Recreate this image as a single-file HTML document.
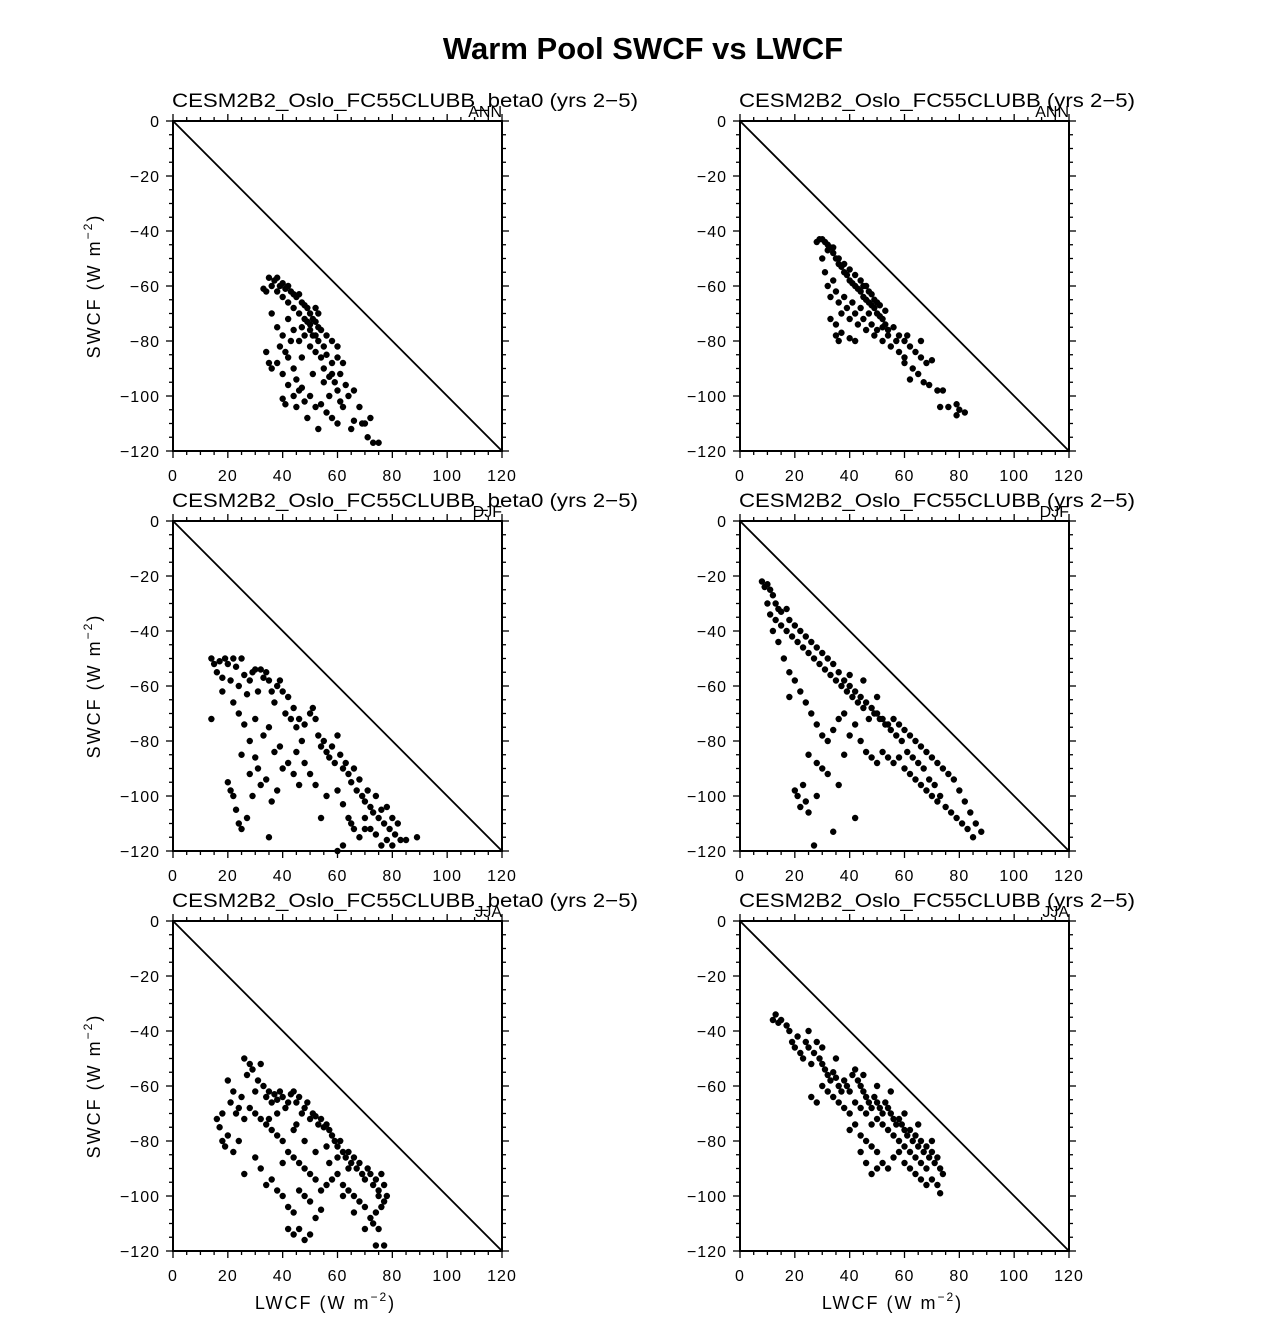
<!DOCTYPE html>
<html><head><meta charset="utf-8"><style>
body{margin:0;background:#fff}
svg text{font-family:"Liberation Sans","DejaVu Sans",sans-serif}
</style></head><body>
<svg id="fig" width="1285" height="1319" viewBox="0 0 1285 1319" xmlns="http://www.w3.org/2000/svg">
<text x="643" y="59" text-anchor="middle" font-size="31" font-weight="bold">Warm Pool SWCF vs LWCF</text>
</svg>
<script>
const xTicks=[0,20,40,60,80,100,120];
const yTicks=[0,-20,-40,-60,-80,-100,-120];
const seasons=["ANN","ANN","DJF","DJF","JJA","JJA"];
const caseLeft="CESM2B2_Oslo_FC55CLUBB_beta0 (yrs 2\u22125)";
const caseRight="CESM2B2_Oslo_FC55CLUBB (yrs 2\u22125)";
const p1=[[35,-57],[37,-58],[38,-57],[39,-60],[40,-59],[41,-61],[42,-60],[43,-62],[44,-63],[45,-64],[46,-63],[47,-66],[48,-67],[49,-68],[50,-70],[51,-72],[52,-73],[53,-75],[54,-76],[50,-74],[52,-78],[48,-72],[46,-70],[44,-68],[42,-66],[40,-64],[38,-62],[36,-60],[34,-62],[33,-61],[36,-70],[38,-75],[40,-78],[42,-72],[44,-76],[46,-80],[48,-78],[50,-82],[52,-84],[54,-86],[56,-85],[58,-88],[60,-86],[62,-88],[55,-90],[57,-93],[59,-95],[61,-92],[63,-96],[53,-80],[55,-82],[58,-80],[60,-82],[34,-84],[35,-88],[36,-90],[38,-88],[40,-92],[42,-86],[44,-90],[39,-82],[41,-84],[42,-96],[44,-100],[46,-98],[48,-102],[50,-100],[52,-104],[54,-103],[56,-106],[58,-108],[60,-110],[45,-104],[49,-108],[53,-112],[57,-100],[62,-104],[64,-100],[66,-98],[68,-104],[70,-110],[72,-108],[71,-115],[73,-117],[75,-117],[65,-112],[43,-80],[47,-86],[51,-92],[45,-94],[60,-98],[40,-101],[41,-103],[47,-97],[50,-76],[51,-78],[53,-70],[49,-73],[52,-68],[47,-75],[56,-78],[55,-95],[58,-92],[61,-102],[66,-109],[69,-110]];
const p2=[[28,-44],[29,-43],[30,-43],[31,-44],[32,-45],[33,-46],[34,-48],[35,-50],[36,-52],[37,-53],[38,-55],[39,-56],[40,-58],[41,-59],[42,-60],[43,-61],[44,-62],[45,-64],[46,-65],[47,-66],[48,-67],[49,-68],[50,-70],[51,-71],[52,-72],[53,-74],[54,-76],[44,-58],[46,-60],[48,-63],[50,-66],[42,-56],[40,-54],[38,-52],[36,-50],[34,-46],[32,-47],[30,-50],[31,-55],[32,-60],[33,-64],[34,-58],[35,-62],[36,-66],[37,-70],[38,-64],[39,-68],[40,-72],[41,-66],[42,-70],[43,-74],[44,-68],[45,-72],[46,-76],[47,-70],[48,-74],[49,-78],[50,-76],[52,-80],[54,-78],[35,-74],[35,-78],[37,-77],[40,-79],[42,-80],[36,-80],[33,-72],[56,-75],[58,-78],[60,-80],[62,-82],[64,-84],[66,-86],[68,-88],[70,-87],[58,-84],[60,-86],[63,-90],[65,-92],[67,-95],[69,-96],[72,-98],[74,-98],[73,-104],[76,-104],[79,-103],[80,-105],[82,-106],[79,-107],[55,-82],[57,-80],[61,-78],[66,-80],[62,-94],[60,-88],[47,-62],[49,-65],[51,-67],[53,-69],[45,-60],[52,-75]];
const p3=[[14,-50],[15,-52],[16,-55],[17,-51],[18,-57],[19,-50],[20,-52],[21,-58],[22,-50],[23,-53],[24,-60],[25,-50],[26,-56],[27,-63],[28,-58],[29,-55],[30,-54],[31,-62],[32,-54],[33,-57],[34,-55],[35,-58],[36,-62],[37,-66],[38,-60],[39,-58],[40,-62],[41,-70],[42,-64],[43,-72],[44,-68],[45,-75],[46,-72],[48,-74],[50,-70],[51,-68],[52,-72],[53,-78],[54,-82],[55,-80],[56,-84],[57,-86],[58,-82],[59,-88],[60,-78],[61,-85],[62,-90],[63,-88],[64,-92],[65,-95],[66,-90],[67,-98],[68,-94],[69,-100],[70,-102],[71,-98],[72,-104],[73,-106],[74,-100],[75,-108],[76,-105],[77,-110],[78,-104],[79,-112],[80,-108],[81,-114],[82,-110],[83,-116],[85,-116],[89,-115],[60,-98],[62,-103],[64,-108],[66,-112],[68,-115],[70,-112],[62,-118],[60,-120],[65,-110],[70,-108],[72,-112],[74,-114],[76,-118],[78,-116],[80,-118],[14,-72],[18,-62],[20,-95],[21,-98],[22,-100],[23,-105],[24,-110],[25,-112],[27,-108],[28,-92],[29,-100],[30,-86],[31,-90],[32,-96],[34,-94],[35,-115],[36,-102],[38,-98],[40,-90],[42,-88],[44,-92],[46,-96],[48,-88],[50,-92],[52,-96],[54,-108],[56,-100],[28,-80],[26,-74],[24,-70],[30,-72],[33,-78],[37,-84],[39,-82],[45,-84],[47,-80],[22,-66],[25,-85],[35,-75]];
const p4=[[8,-22],[9,-24],[10,-23],[11,-25],[12,-27],[13,-30],[14,-32],[15,-33],[17,-32],[18,-36],[20,-38],[22,-40],[24,-42],[26,-44],[28,-46],[30,-48],[32,-50],[34,-52],[36,-55],[38,-58],[40,-60],[42,-62],[44,-64],[46,-66],[48,-68],[50,-70],[52,-72],[54,-74],[56,-72],[58,-74],[60,-76],[62,-78],[64,-80],[66,-82],[68,-84],[70,-86],[72,-88],[74,-90],[76,-92],[78,-94],[80,-98],[82,-102],[84,-106],[86,-110],[88,-113],[85,-115],[83,-112],[81,-110],[79,-108],[77,-106],[75,-104],[73,-100],[71,-96],[69,-94],[67,-90],[65,-88],[63,-86],[61,-84],[59,-80],[57,-78],[55,-76],[53,-74],[51,-72],[49,-70],[47,-72],[45,-68],[43,-66],[41,-64],[39,-62],[37,-60],[35,-58],[33,-56],[31,-54],[29,-52],[27,-50],[25,-48],[23,-46],[21,-44],[19,-42],[17,-40],[15,-38],[13,-36],[11,-34],[10,-30],[12,-40],[14,-44],[16,-50],[18,-55],[20,-58],[22,-62],[24,-66],[26,-70],[28,-74],[30,-78],[32,-80],[34,-76],[36,-72],[38,-70],[40,-78],[42,-74],[44,-80],[46,-84],[48,-86],[50,-88],[52,-84],[54,-86],[56,-88],[58,-86],[60,-90],[62,-92],[64,-94],[66,-96],[68,-98],[70,-100],[72,-102],[20,-98],[21,-100],[22,-104],[23,-96],[24,-102],[25,-106],[27,-118],[28,-100],[30,-90],[32,-92],[34,-113],[36,-96],[38,-85],[42,-108],[25,-85],[28,-88],[18,-64],[40,-56],[45,-58],[50,-64]];
const p5=[[16,-72],[17,-75],[18,-80],[19,-82],[20,-58],[21,-66],[22,-62],[23,-70],[24,-68],[25,-64],[26,-50],[27,-56],[28,-52],[29,-54],[30,-62],[31,-58],[32,-52],[33,-60],[34,-64],[35,-62],[36,-66],[37,-63],[38,-65],[39,-62],[40,-64],[41,-68],[42,-66],[43,-63],[44,-62],[45,-66],[46,-64],[47,-70],[48,-68],[49,-66],[50,-72],[51,-70],[52,-71],[53,-74],[54,-72],[55,-75],[56,-74],[57,-76],[58,-78],[59,-80],[60,-82],[61,-80],[62,-84],[63,-86],[64,-84],[65,-88],[66,-86],[67,-90],[68,-88],[69,-92],[70,-94],[71,-90],[72,-92],[73,-96],[74,-94],[75,-98],[76,-92],[77,-96],[78,-100],[77,-102],[75,-100],[76,-104],[74,-106],[73,-110],[72,-108],[75,-112],[70,-104],[68,-102],[66,-100],[64,-98],[62,-96],[60,-92],[58,-94],[56,-96],[54,-98],[52,-94],[50,-92],[48,-90],[46,-88],[44,-86],[42,-84],[40,-80],[38,-78],[36,-76],[34,-74],[32,-72],[30,-70],[28,-68],[26,-72],[24,-80],[22,-84],[20,-78],[18,-70],[26,-92],[30,-86],[32,-90],[34,-96],[36,-94],[38,-98],[40,-100],[42,-104],[44,-106],[46,-98],[48,-100],[50,-102],[52,-108],[42,-112],[44,-114],[46,-112],[48,-116],[50,-114],[54,-105],[57,-88],[62,-100],[66,-106],[70,-112],[77,-118],[74,-118],[40,-88],[44,-76],[48,-80],[52,-84],[56,-82],[60,-86],[64,-90],[35,-72],[38,-70],[45,-74]];
const p6=[[12,-36],[13,-34],[14,-37],[15,-36],[17,-38],[18,-40],[19,-44],[20,-46],[21,-42],[22,-48],[23,-50],[24,-44],[25,-46],[26,-52],[27,-48],[28,-44],[29,-50],[30,-52],[31,-54],[32,-56],[33,-58],[34,-55],[35,-57],[36,-60],[37,-62],[38,-58],[39,-60],[40,-62],[41,-56],[42,-54],[43,-58],[44,-60],[45,-62],[46,-64],[47,-66],[48,-68],[49,-64],[50,-66],[51,-68],[52,-70],[53,-66],[54,-68],[55,-70],[56,-72],[57,-74],[58,-72],[59,-74],[60,-76],[61,-78],[62,-76],[63,-80],[64,-78],[65,-82],[66,-80],[67,-84],[68,-82],[69,-86],[70,-84],[71,-88],[72,-86],[73,-90],[74,-92],[72,-96],[73,-99],[70,-94],[68,-90],[66,-88],[64,-86],[62,-84],[60,-82],[58,-80],[56,-78],[54,-76],[52,-74],[50,-72],[48,-74],[46,-70],[44,-68],[42,-66],[40,-70],[38,-68],[36,-66],[34,-64],[32,-62],[30,-60],[28,-66],[26,-64],[42,-74],[44,-78],[46,-80],[48,-82],[50,-84],[52,-88],[54,-90],[56,-86],[58,-84],[60,-88],[62,-90],[64,-92],[66,-94],[68,-96],[46,-88],[48,-92],[50,-90],[44,-84],[40,-76],[55,-62],[50,-60],[45,-56],[35,-50],[30,-46],[25,-40],[60,-70],[65,-74],[70,-80]];
const panelData=[p1,p2,p3,p4,p5,p6];

const NS="http://www.w3.org/2000/svg";
const svg=document.getElementById('fig');
function mk(tag,attrs,parent){const e=document.createElementNS(NS,tag);for(const k in attrs)e.setAttribute(k,attrs[k]);(parent||svg).appendChild(e);return e;}
const W=329,H=330;
const lefts=[173,740],tops=[121,521,921];
for(let i=0;i<6;i++){
  const col=i%2,row=Math.floor(i/2);
  const L=lefts[col],T=tops[row];
  const sx=v=>L+v/120*W;
  const sy=v=>T+(-v)/120*H;
  const g=mk('g',{});
  
  
  const t=mk('text',{x:L-1,y:T-14,'font-size':19,textLength:col?396:466,lengthAdjust:'spacingAndGlyphs'},g);t.textContent=col?caseRight:caseLeft;
  
  
  const s=mk('text',{x:L+W,y:T-4,'font-size':16,'text-anchor':'end'},g);s.textContent=seasons[i];
  
  
  for(let v=0;v<=120;v+=5){
    const maj=v%20===0,len=maj?7:4;
    mk('line',{x1:sx(v),x2:sx(v),y1:T+H,y2:T+H+len,stroke:'#000','stroke-width':1.3},g);
    mk('line',{x1:sx(v),x2:sx(v),y1:T,y2:T-len,stroke:'#000','stroke-width':1.3},g);
    mk('line',{x1:L,x2:L-len,y1:sy(-v),y2:sy(-v),stroke:'#000','stroke-width':1.3},g);
    mk('line',{x1:L+W,x2:L+W+len,y1:sy(-v),y2:sy(-v),stroke:'#000','stroke-width':1.3},g);
  }
  xTicks.forEach(v=>{const e=mk('text',{x:sx(v),y:T+H+30,'font-size':16,'text-anchor':'middle','letter-spacing':1},g);e.textContent=String(v);
    
    });
  yTicks.forEach(v=>{const e=mk('text',{x:L-13,y:sy(v)+6,'font-size':16,'text-anchor':'end','letter-spacing':1},g);e.textContent=v<0?'\u2212'+(-v):String(v);
    
    });
  const fr=mk('rect',{x:L,y:T,width:W,height:H,fill:'none',stroke:'#000','stroke-width':2},g);
  
  
  const d=mk('line',{x1:sx(0),y1:sy(0),x2:sx(120),y2:sy(-120),stroke:'#000','stroke-width':1.8},g);
  
  
  panelData[i].forEach(p=>{const c=mk('circle',{cx:sx(p[0]),cy:sy(p[1]),r:3.2,fill:'#000'},g);
    
    });
  if(col===0){
    const yt=mk('text',{transform:`translate(${L-73},${T+H/2}) rotate(-90)`,'font-size':18,'text-anchor':'middle','letter-spacing':2},g);
    yt.innerHTML='SWCF (W m<tspan dy="-8" font-size="12">\u22122</tspan><tspan dy="8">)</tspan>';
    
    
  }
  if(row===2){
    const xt=mk('text',{x:L+W/2-12,y:T+H+58,'font-size':18,'text-anchor':'middle','letter-spacing':2},g);
    xt.innerHTML='LWCF (W m<tspan dy="-8" font-size="12">\u22122</tspan><tspan dy="8">)</tspan>';
    
    
  }
}
</script>
</body></html>
